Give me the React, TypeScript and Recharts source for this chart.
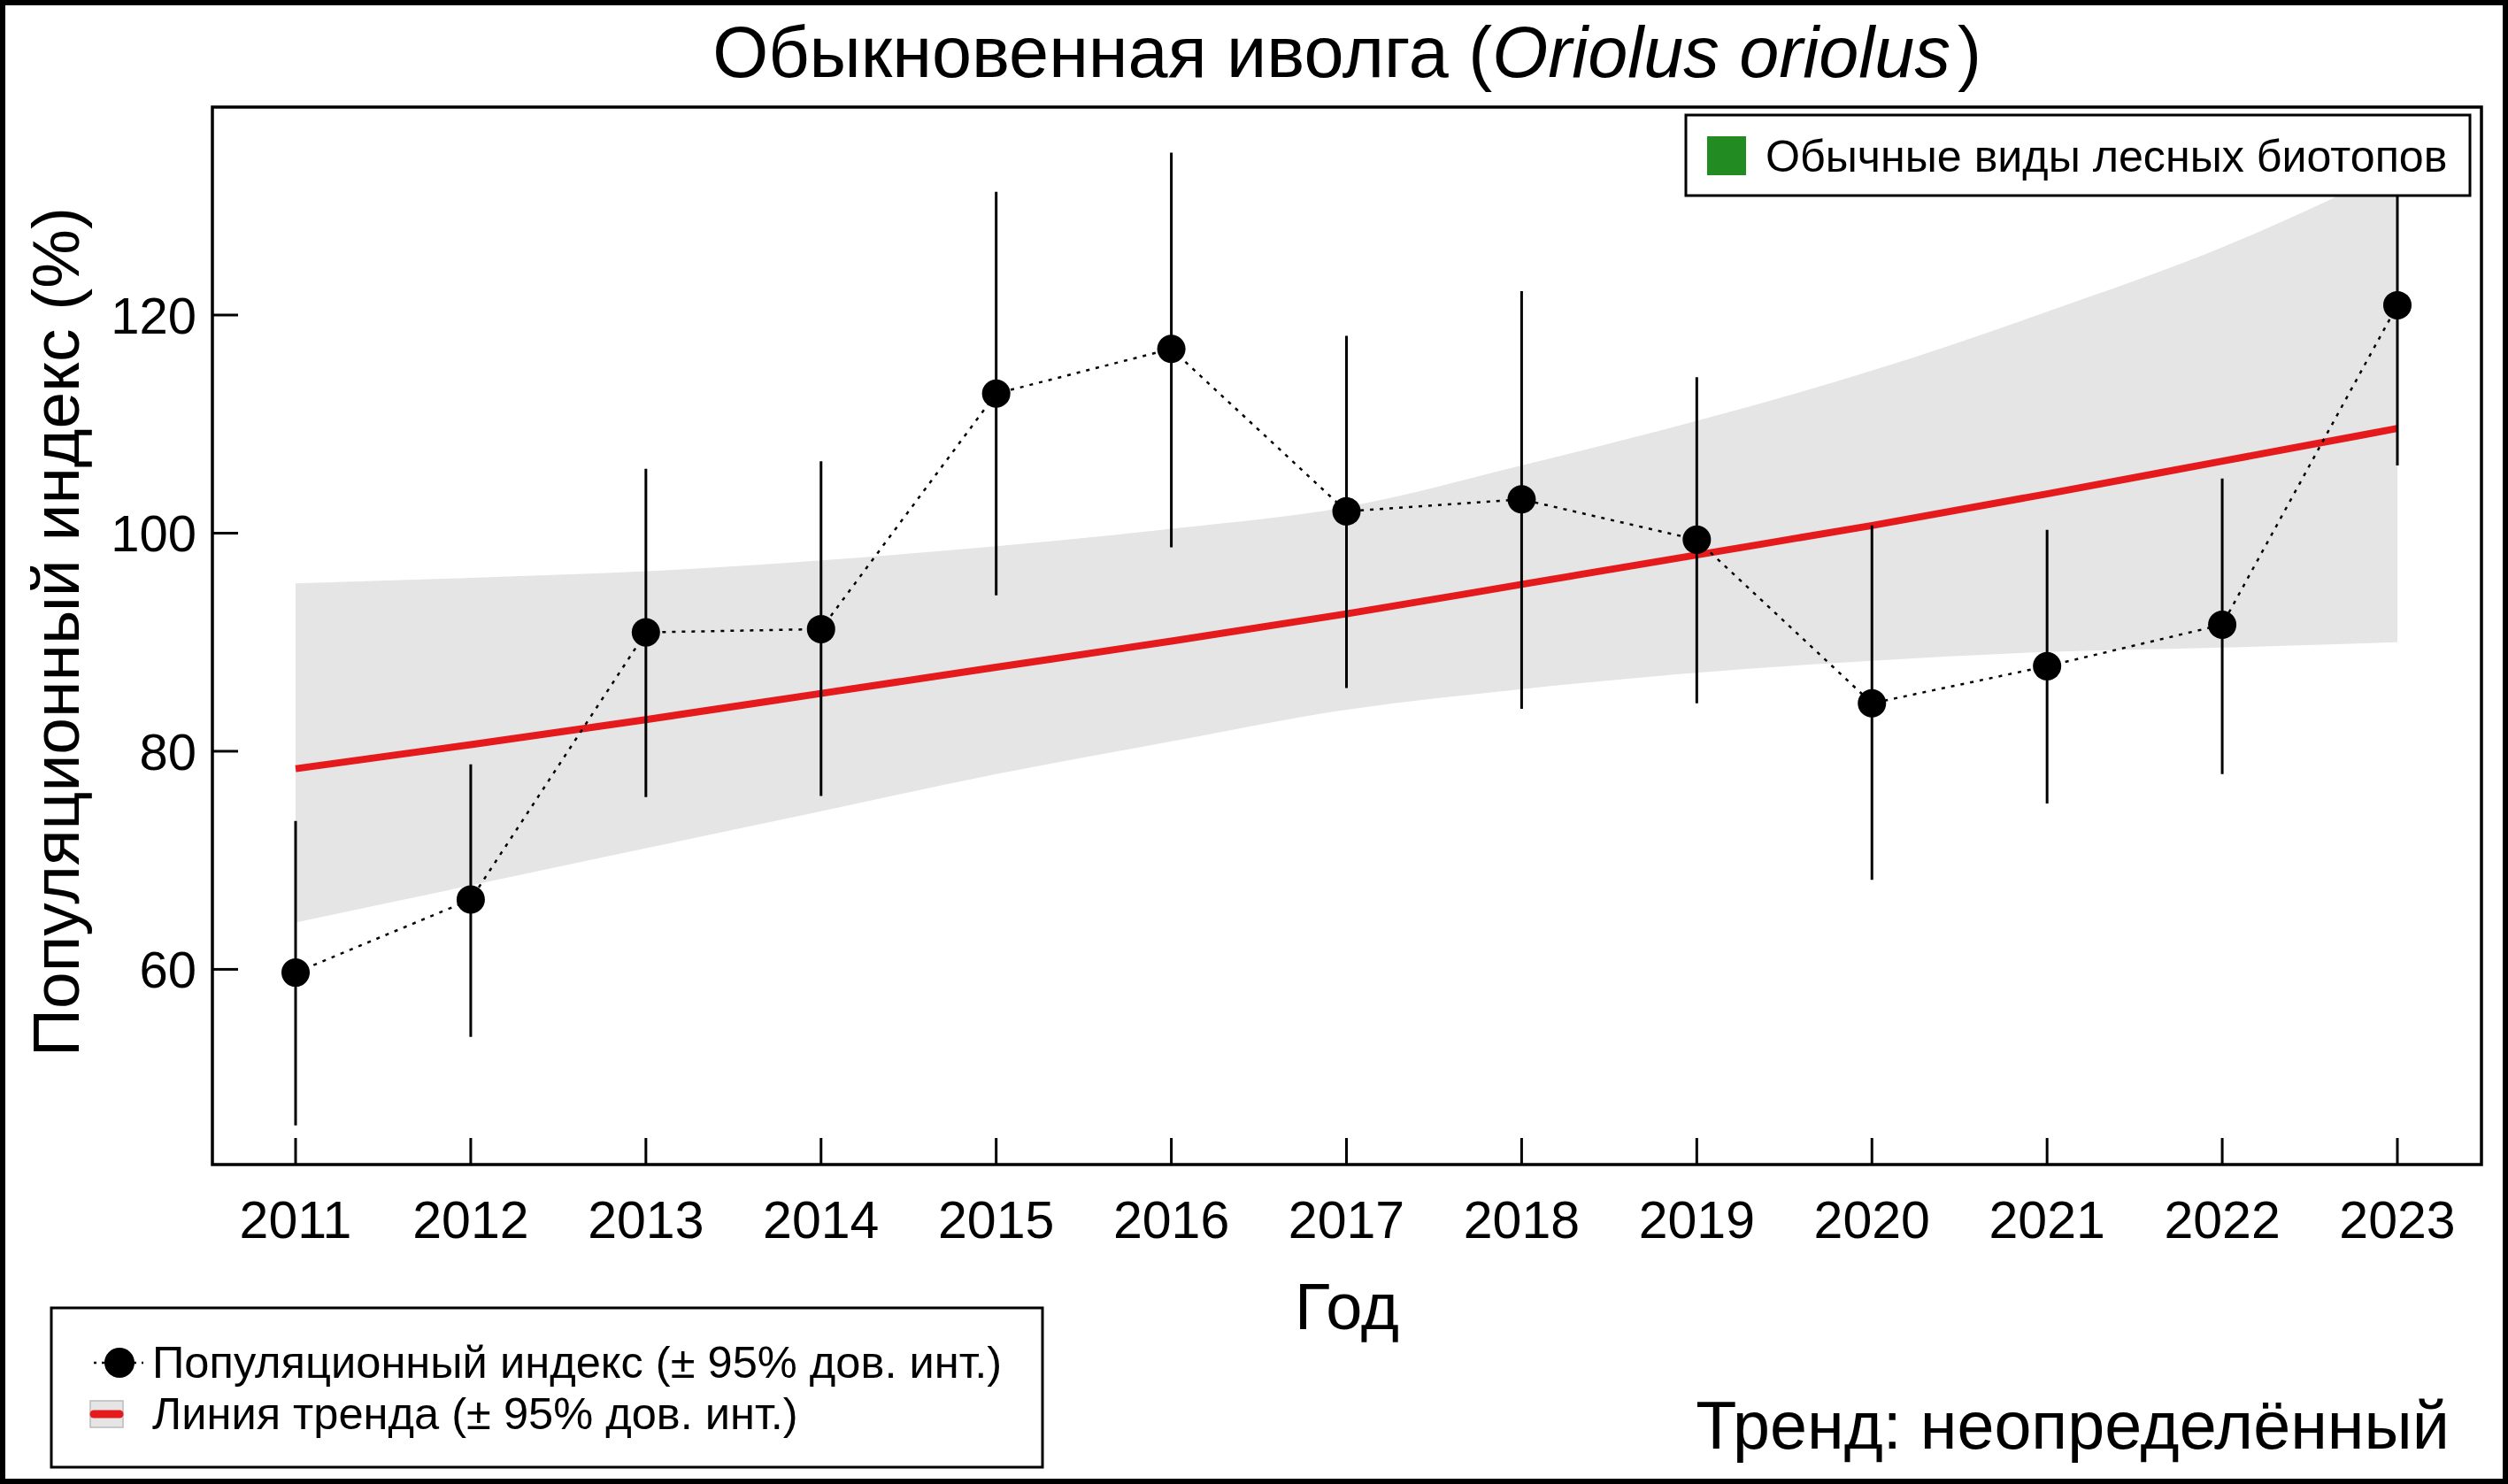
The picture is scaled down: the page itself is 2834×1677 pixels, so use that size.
import React from 'react';
import { ComposedChart, Line, Area, XAxis, YAxis, ErrorBar, ReferenceArea } from 'recharts';

const years = [2011, 2012, 2013, 2014, 2015, 2016, 2017, 2018, 2019, 2020, 2021, 2022, 2023];
const indexValues = [59.7, 66.4, 90.9, 91.2, 112.8, 116.9, 102.0, 103.1, 99.4, 84.4, 87.8, 91.6, 120.9];
const ciLow = [45.7, 53.8, 75.8, 75.9, 94.3, 98.7, 85.8, 83.9, 84.4, 68.2, 75.2, 77.9, 106.2];
const ciHigh = [73.6, 78.8, 105.9, 106.6, 131.3, 134.9, 118.1, 122.2, 114.3, 100.7, 100.3, 105.0, 135.0];
const trendValues = [78.4, 80.6, 82.9, 85.3, 87.7, 90.1, 92.6, 95.3, 98.0, 100.7, 103.6, 106.6, 109.6];
const bandLow = [64.3, 67.7, 71.1, 74.5, 77.9, 80.9, 83.8, 85.7, 87.2, 88.3, 89.1, 89.5, 90.0];
const bandHigh = [95.4, 95.9, 96.5, 97.5, 98.8, 100.4, 102.4, 106.2, 110.3, 114.9, 120.3, 126.2, 133.5];
const yTicks = [60, 80, 100, 120];
const xDomain = [2010.525, 2023.48];
const yDomain = [42.1, 139.07];

const data = years.map((y, i) => ({
  year: y,
  index: indexValues[i],
  err: [indexValues[i] - ciLow[i], ciHigh[i] - indexValues[i]],
  trend: trendValues[i],
  band: [bandLow[i], bandHigh[i]],
}));

const FONT = '"Liberation Sans", Arial, sans-serif';

const XTick = (p: any) => (
  <g>
    <line x1={p.x} x2={p.x} y1={p.y} y2={p.y - 30} stroke="#000" strokeWidth={3} />
    <text x={p.x} y={p.y + 83} textAnchor="middle" fontSize={59} fontFamily={FONT} fill="#000">
      {p.payload.value}
    </text>
  </g>
);

const YTick = (p: any) => (
  <g>
    <line x1={p.x} x2={p.x + 29} y1={p.y} y2={p.y} stroke="#000" strokeWidth={3} />
    <text x={p.x - 18} y={p.y + 21} textAnchor="end" fontSize={58} fontFamily={FONT} fill="#000">
      {p.payload.value}
    </text>
  </g>
);

export default function App() {
  return (
    <div style={{ position: 'absolute', left: 0, top: 0, width: 2834, height: 1677, background: '#fff' }}>
      <ComposedChart
        width={2834}
        height={1677}
        data={data}
        margin={{ top: 121, right: 30, left: 0, bottom: 0 }}
      >
        <XAxis
          dataKey="year"
          type="number"
          domain={xDomain}
          ticks={years}
          allowDataOverflow
          height={361}
          axisLine={false}
          tickLine={false}
          tickSize={0}
          tickMargin={0}
          tick={<XTick />}
          interval={0}
        />
        <YAxis
          type="number"
          domain={yDomain}
          ticks={yTicks}
          allowDataOverflow
          width={240}
          axisLine={false}
          tickLine={false}
          tickSize={0}
          tickMargin={0}
          tick={<YTick />}
          interval={0}
        />
        <Area
          dataKey="band"
          type="monotone"
          fill="#E5E5E5"
          fillOpacity={1}
          stroke="none"
          isAnimationActive={false}
        />
        <Line
          dataKey="trend"
          type="monotone"
          stroke="#E41A1C"
          strokeWidth={8}
          dot={false}
          isAnimationActive={false}
        />
        <Line
          dataKey="index"
          type="linear"
          stroke="#000"
          strokeWidth={2.5}
          strokeDasharray="4 7"
          dot={{ r: 16, fill: '#000', stroke: 'none' }}
          isAnimationActive={false}
        >
          <ErrorBar dataKey="err" width={0} stroke="#000" strokeWidth={3} direction="y" isAnimationActive={false} />
        </Line>
        <ReferenceArea
          x1={xDomain[0]}
          x2={xDomain[1]}
          y1={yDomain[0]}
          y2={yDomain[1]}
          fill="none"
          fillOpacity={0}
          stroke="#000"
          strokeWidth={3.5}
          ifOverflow="visible"
        />
      </ComposedChart>
      <svg
        width={2834}
        height={1677}
        style={{ position: 'absolute', left: 0, top: 0, pointerEvents: 'none' }}
        fontFamily={FONT}
      >
        <rect x={3} y={3} width={2828} height={1671} fill="none" stroke="#000" strokeWidth={6} />
        <text x={1522} y={87} textAnchor="middle" fontSize={81} fill="#000">
          Обыкновенная иволга (<tspan fontStyle="italic">Oriolus oriolus</tspan><tspan dx={8}>)</tspan>
        </text>
        <text
          x={89}
          y={714}
          transform="rotate(-90, 89, 714)"
          textAnchor="middle"
          fontSize={75}
          fill="#000"
        >
          Популяционный индекс (%)
        </text>
        <text x={1522} y={1502} textAnchor="middle" fontSize={74} fill="#000">Год</text>
        <text x={2768} y={1637} textAnchor="end" fontSize={75.5} fill="#000">Тренд: неопределённый</text>

        <rect x={1905} y={130} width={886} height={91} fill="#fff" stroke="#000" strokeWidth={3} />
        <rect x={1929} y={154} width={44} height={44} fill="#228B22" />
        <text x={1995} y={194} fontSize={50.2} fill="#000">Обычные виды лесных биотопов</text>

        <rect x={58} y={1478} width={1120} height={180} fill="#fff" stroke="#000" strokeWidth={3} />
        <line x1={106} x2={162} y1={1540} y2={1540} stroke="#000" strokeWidth={2.5} strokeDasharray="3 6" />
        <circle cx={135} cy={1540} r={17} fill="#000" />
        <text x={172} y={1557} fontSize={50.6} fill="#000">Популяционный индекс (± 95% дов. инт.)</text>
        <rect x={102} y={1583} width={37} height={30} fill="#E5E5E5" stroke="#BBBBBB" strokeWidth={1.5} />
        <line x1={106} x2={135} y1={1598} y2={1598} stroke="#E41A1C" strokeWidth={9} strokeLinecap="round" />
        <text x={172} y={1615} fontSize={50.6} fill="#000">Линия тренда (± 95% дов. инт.)</text>
      </svg>
    </div>
  );
}
